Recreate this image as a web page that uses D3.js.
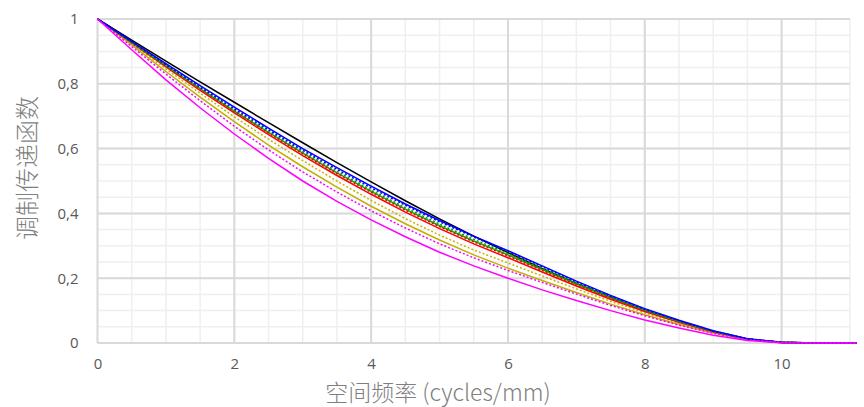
<!DOCTYPE html>
<html>
<head>
<meta charset="utf-8">
<script src="https://cdn.jsdelivr.net/npm/d3@7"></script>
<style>
  body { margin: 0; background: #fff; }
  svg { display: block; }
  .tick text { fill: #595959; font-family: "Open Sans", "Noto Sans", sans-serif; font-size: 15px; }
  .title { fill: #7f7f7f; font-family: "Noto Sans CJK SC", "Noto Sans", sans-serif; font-weight: 300; font-size: 24px; }
</style>
</head>
<body>
<svg id="chart" width="864" height="407"></svg>
<script>
// spatial frequency (cycles/mm)
const freq = [0, 0.5, 1, 1.5, 2, 2.5, 3, 3.5, 4, 4.5, 5, 5.5, 6, 6.5, 7, 7.5, 8, 8.5, 9, 9.5, 10, 10.5, 11, 11.1];

const mtfBlack    = [1, .935, .870, .806, .743, .680, .618, .557, .497, .439, .383, .330, .279, .230, .184, .141, .101, .066, .036, .012, .001, 0, 0, 0];
const mtfBlue     = [1, .931, .862, .794, .728, .663, .600, .541, .484, .429, .378, .330, .285, .238, .191, .147, .106, .070, .038, .013, .002, 0, 0, 0];
const mtfBlueDot  = [1, .930, .859, .790, .723, .658, .595, .536, .479, .425, .374, .327, .283, .236, .189, .145, .104, .069, .037, .013, .002, 0, 0, 0];
const mtfGreen    = [1, .928, .856, .785, .716, .650, .586, .525, .468, .413, .362, .315, .272, .227, .182, .140, .101, .066, .036, .012, .002, 0, 0, 0];
const mtfGreenDot = [1, .928, .857, .787, .719, .653, .590, .530, .472, .418, .367, .320, .276, .231, .185, .142, .102, .067, .036, .012, .002, 0, 0, 0];
const mtfRed      = [1, .926, .852, .780, .710, .643, .578, .517, .459, .404, .353, .306, .263, .219, .176, .135, .097, .064, .035, .012, .002, 0, 0, 0];
const mtfRedDot   = [1, .927, .855, .784, .715, .648, .584, .523, .465, .410, .359, .312, .269, .224, .180, .138, .099, .065, .035, .012, .002, 0, 0, 0];
const mtfOliveDot = [1, .923, .846, .771, .698, .629, .563, .500, .440, .384, .333, .287, .247, .207, .167, .129, .093, .061, .033, .011, .002, 0, 0, 0];
const mtfOlive    = [1, .920, .838, .759, .683, .611, .544, .481, .422, .368, .318, .272, .231, .193, .156, .120, .087, .057, .031, .010, .002, 0, 0, 0];
const mtfMagDot   = [1, .915, .830, .748, .669, .596, .528, .466, .408, .355, .306, .263, .224, .187, .151, .116, .084, .055, .030, .010, .002, 0, 0, 0];
const mtfMag      = [1, .905, .812, .726, .645, .570, .500, .437, .380, .328, .280, .238, .200, .164, .131, .100, .071, .046, .024, .008, .001, 0, 0, 0];

const xTicks = [0, 2, 4, 6, 8, 10];
const yTicks = [0, 0.2, 0.4, 0.6, 0.8, 1];

const series = [
    {values: mtfBlack, color: "#000000", dash: null},
    {values: mtfOliveDot, color: "#c8b400", dash: "2,2"},
    {values: mtfOlive, color: "#bfb000", dash: null},
    {values: mtfRed, color: "#ff0000", dash: null},
    {values: mtfGreen, color: "#00b000", dash: null},
    {values: mtfRedDot, color: "#ff0000", dash: "2,2"},
    {values: mtfGreenDot, color: "#00a000", dash: "2,2"},
    {values: mtfBlueDot, color: "#0000ff", dash: "2,2"},
    {values: mtfBlue, color: "#0000ff", dash: null},
    {values: mtfMagDot, color: "#ff00ff", dash: "2,2"},
    {values: mtfMag, color: "#ff00ff", dash: null}
];

const svg = d3.select("#chart");
const margin = {top: 19, right: 14, bottom: 64, left: 97.5};
const width = 850 - margin.left;
const height = 343 - margin.top;
const g = svg.append("g").attr("transform", "translate(" + margin.left + "," + margin.top + ")");

const x = d3.scaleLinear().domain([0, 11]).range([0, width]);
const y = d3.scaleLinear().domain([0, 1]).range([height, 0]);

// minor grid
g.append("g").selectAll("line").data(d3.range(0, 11.01, 0.5)).join("line")
    .attr("x1", d => x(d)).attr("x2", d => x(d)).attr("y1", 0).attr("y2", height)
    .attr("stroke", "#efefef").attr("stroke-width", 1.5);
g.append("g").selectAll("line").data(d3.range(0, 1.001, 0.05)).join("line")
    .attr("x1", 0).attr("x2", width).attr("y1", d => y(d)).attr("y2", d => y(d))
    .attr("stroke", "#efefef").attr("stroke-width", 1.5);
// major grid
g.append("g").selectAll("line").data(xTicks).join("line")
    .attr("x1", d => x(d)).attr("x2", d => x(d)).attr("y1", 0).attr("y2", height)
    .attr("stroke", "#d9d9d9").attr("stroke-width", 2);
g.append("g").selectAll("line").data(yTicks).join("line")
    .attr("x1", 0).attr("x2", width).attr("y1", d => y(d)).attr("y2", d => y(d))
    .attr("stroke", "#d9d9d9").attr("stroke-width", 2);

// axes (labels only)
const fmt = d => String(d).replace(".", ",");
g.append("g")
    .attr("transform", "translate(0," + height + ")")
    .call(d3.axisBottom(x).tickValues(xTicks).tickSize(0).tickPadding(15).tickFormat(fmt))
    .call(a => a.select(".domain").remove());
g.append("g")
    .call(d3.axisLeft(y).tickValues(yTicks).tickSize(0).tickPadding(19).tickFormat(fmt))
    .call(a => a.select(".domain").remove());

// curves
const line = d3.line()
    .x((d, i) => x(freq[i]))
    .y(d => y(d));

g.append("g").selectAll("path").data(series).join("path")
    .attr("d", d => line(d.values))
    .attr("fill", "none")
    .attr("stroke", d => d.color)
    .attr("stroke-width", 1.5)
    .attr("stroke-dasharray", d => d.dash);

// titles
svg.append("text").attr("class", "title")
    .attr("x", 438).attr("y", 401)
    .attr("text-anchor", "middle")
    .style("font-size", "23px")
    .text("空间频率 (cycles/mm)");
svg.append("text").attr("class", "title")
    .attr("transform", "translate(36,168) rotate(-90)")
    .attr("text-anchor", "middle")
    .text("调制传递函数");
</script>
</body>
</html>
